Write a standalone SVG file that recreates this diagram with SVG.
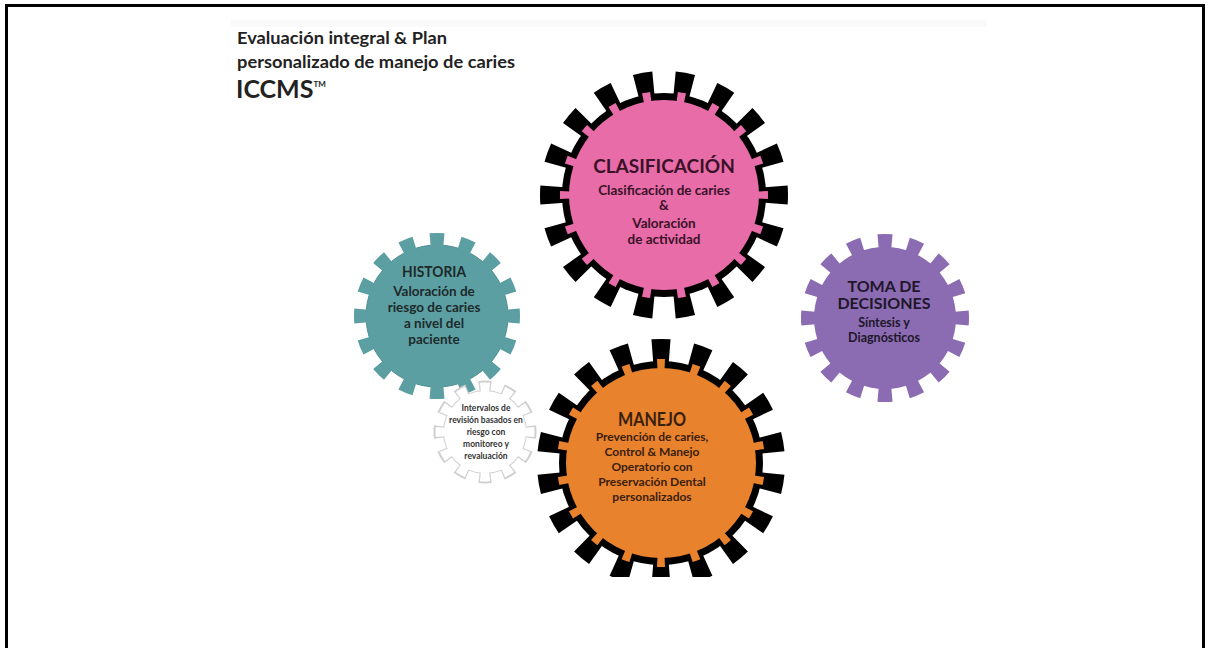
<svg xmlns="http://www.w3.org/2000/svg" width="1208" height="648" viewBox="0 0 1208 648">
<style>
.t{font-family:Lato,"Liberation Sans",sans-serif;font-weight:700;text-anchor:middle}
.title{font-family:Lato,"Liberation Sans",sans-serif;font-weight:700;fill:#222}
.teeth{fill:none}
</style>
<defs>
<clipPath id="img"><rect x="231" y="20" width="756" height="557"/></clipPath>
</defs>
<rect width="1208" height="648" fill="#fff"/>
<rect x="231" y="20" width="756" height="7" fill="#fafafa"/>
<path d="M6.5,648 V5.5 H1203.5 V648" fill="none" stroke="#000" stroke-width="3"/>
<g id="title">
<text class="title" x="237" y="44" font-size="17" textLength="210" lengthAdjust="spacingAndGlyphs">Evaluación  integral &amp; Plan</text>
<text class="title" x="237" y="68" font-size="17" textLength="278" lengthAdjust="spacingAndGlyphs">personalizado  de manejo de caries</text>
<text class="title" x="236" y="98" font-size="25">ICCMS<tspan font-size="8" dy="-11">TM</tspan></text>
</g>
<g id="connectors"/>
<g id="clasificacion">
<circle cx="664" cy="195" r="102" fill="#000"/>
<circle class="teeth" cx="664" cy="195" r="110" stroke="#000" stroke-width="28" pathLength="360" stroke-dasharray="9 11" stroke-dashoffset="4.5"/>
<circle cx="664" cy="195" r="95" fill="#e86ca8"/>
<circle class="teeth" cx="664" cy="195" r="99" stroke="#e86ca8" stroke-width="10" pathLength="360" stroke-dasharray="4.5 15.5" stroke-dashoffset="2.25"/>
<text class="t" x="664" y="173" font-size="19" fill="#3a1228">CLASIFICACIÓN</text>
<text class="t" x="664" y="195" font-size="13.5" fill="#3a1228">Clasificación de caries</text>
<text class="t" x="664" y="210" font-size="13.5" fill="#3a1228">&amp;</text>
<text class="t" x="664" y="228" font-size="13.5" fill="#3a1228">Valoración</text>
<text class="t" x="664" y="244" font-size="13.5" fill="#3a1228">de actividad</text>
</g>
<g id="historia">
<circle cx="437" cy="316" r="71" fill="#5c9fa2" stroke="#4d8f92" stroke-width="1"/>
<circle class="teeth" cx="437" cy="316" r="76" stroke="#5c9fa2" stroke-width="14" pathLength="360" stroke-dasharray="10.5 12" stroke-dashoffset="5.25"/>
<text class="t" x="434" y="277" font-size="16" textLength="64" lengthAdjust="spacingAndGlyphs" fill="#1c2a2b">HISTORIA</text>
<text class="t" x="434" y="296" font-size="13.5" fill="#1c2a2b">Valoración de</text>
<text class="t" x="434" y="312" font-size="13.5" fill="#1c2a2b">riesgo de caries</text>
<text class="t" x="434" y="328" font-size="13.5" fill="#1c2a2b">a nivel del</text>
<text class="t" x="434" y="344" font-size="13.5" fill="#1c2a2b">paciente</text>
</g>
<g id="toma">
<circle cx="885" cy="318" r="71" fill="#8b6bb1"/>
<circle class="teeth" cx="885" cy="318" r="77" stroke="#8b6bb1" stroke-width="14" pathLength="360" stroke-dasharray="10.5 12" stroke-dashoffset="5.25"/>
<text class="t" x="884" y="292" font-size="16" fill="#20172b">TOMA  DE</text>
<text class="t" x="884" y="309" font-size="16" fill="#20172b">DECISIONES</text>
<text class="t" x="884" y="327" font-size="12.5" fill="#20172b">Síntesis y</text>
<text class="t" x="884" y="342" font-size="12.5" fill="#20172b">Diagnósticos</text>
</g>
<g id="intervalos">
<circle class="teeth" cx="485" cy="432" r="46" stroke="#cfcfcf" stroke-width="11" pathLength="360" stroke-dasharray="15 15" stroke-dashoffset="7.5"/>
<circle cx="485" cy="432" r="42" fill="#cfcfcf"/>
<circle class="teeth" cx="485" cy="432" r="45" stroke="#fff" stroke-width="9" pathLength="360" stroke-dasharray="12 18" stroke-dashoffset="6"/>
<circle cx="485" cy="432" r="41" fill="#fff"/>
<text class="t" x="486" y="411" font-size="8.5" fill="#333">Intervalos  de</text>
<text class="t" x="486" y="423" font-size="8.5" fill="#333">revisión basados en</text>
<text class="t" x="486" y="435" font-size="8.5" fill="#333">riesgo con</text>
<text class="t" x="486" y="447" font-size="8.5" fill="#333">monitoreo y</text>
<text class="t" x="486" y="459" font-size="8.5" fill="#333">revaluación</text>
</g>
<g id="manejo" clip-path="url(#img)">
<circle cx="661" cy="463" r="102" fill="#000"/>
<circle class="teeth" cx="661" cy="463" r="110" stroke="#000" stroke-width="28" pathLength="360" stroke-dasharray="9 11" stroke-dashoffset="-5.5"/>
<circle cx="661" cy="463" r="95" fill="#e8822c"/>
<circle class="teeth" cx="661" cy="463" r="99" stroke="#e8822c" stroke-width="10" pathLength="360" stroke-dasharray="4.5 15.5" stroke-dashoffset="-7.75"/>
<text class="t" x="652" y="426" font-size="18" textLength="68" lengthAdjust="spacingAndGlyphs" fill="#3a200c">MANEJO</text>
<text class="t" x="652" y="441" font-size="12" fill="#3a200c">Prevención de caries,</text>
<text class="t" x="652" y="456" font-size="12" fill="#3a200c">Control &amp; Manejo</text>
<text class="t" x="652" y="471" font-size="12" fill="#3a200c">Operatorio con</text>
<text class="t" x="652" y="486" font-size="12" fill="#3a200c">Preservación Dental</text>
<text class="t" x="652" y="501" font-size="12" fill="#3a200c">personalizados</text>
</g>
</svg>
